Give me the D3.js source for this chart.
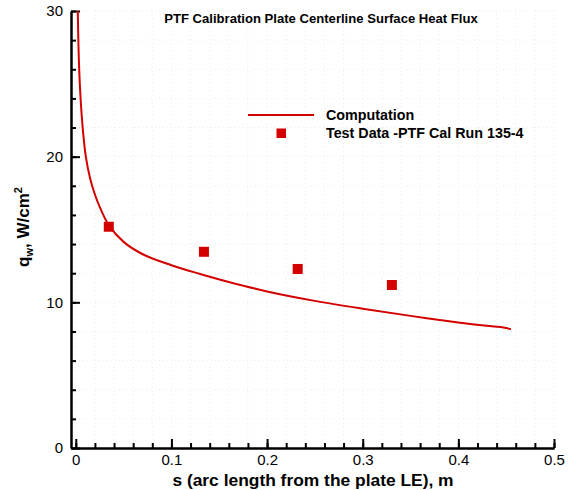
<!DOCTYPE html>
<html><head><meta charset="utf-8">
<script src="https://cdn.jsdelivr.net/npm/d3@7"></script>
<style>
body{margin:0;background:#fff;}
svg{display:block;font-family:"Liberation Sans",Arial,Helvetica,sans-serif;}
</style></head>
<body>
<svg id="c" width="574" height="490"></svg>
<script>
// Computation curve (s in m, q in W/cm^2)
const compS = [0.0021,0.0033,0.0052,0.0076,0.0105,0.015,0.02,0.025,0.0345,0.05,0.07,0.1,0.13,0.16,0.2,0.25,0.3,0.35,0.4,0.435,0.447,0.455];
const compQ = [30.0,26.5,23.8,21.7,20.0,18.5,17.4,16.55,15.3,14.15,13.3,12.55,11.95,11.4,10.75,10.1,9.56,9.07,8.62,8.35,8.27,8.15];
// Test data
const testS = [0.0345,0.134,0.232,0.3305];
const testQ = [15.19,13.47,12.29,11.19];
const xTicks = [0,0.1,0.2,0.3,0.4,0.5];
const yTicks = [0,10,20,30];
const xMinor = d3.range(0,0.5001,0.02);
const yMinor = d3.range(0,30.001,2);
const legendLabels = ["Computation","Test Data -PTF Cal Run 135-4"];
const titleText = "PTF Calibration Plate Centerline Surface Heat Flux";

const red = "#d40000";
const svg = d3.select("#c");
const x = d3.scaleLinear().domain([-0.005,0.5]).range([71,554]);
const y = d3.scaleLinear().domain([0,30]).range([448,11]);

// faint grid
const g = svg.append("g");
g.selectAll("line.gx").data(xMinor).join("line")
  .attr("x1",d=>x(d)).attr("x2",d=>x(d)).attr("y1",y(0)).attr("y2",y(30))
  .attr("stroke","#ececec").attr("stroke-width",1).attr("stroke-dasharray","1,3");
g.selectAll("line.gy").data(yMinor).join("line")
  .attr("y1",d=>y(d)).attr("y2",d=>y(d)).attr("x1",x(-0.005)).attr("x2",x(0.5))
  .attr("stroke","#ececec").attr("stroke-width",1).attr("stroke-dasharray","1,3");

// axes
const xAxis = svg.append("g").attr("transform",`translate(0,${y(0)})`)
  .call(d3.axisBottom(x).tickValues(xTicks).tickSize(-9).tickSizeOuter(0).tickPadding(6).tickFormat(d3.format("")));
const xAxisMinor = svg.append("g").attr("transform",`translate(0,${y(0)})`)
  .call(d3.axisBottom(x).tickValues(xMinor).tickSize(-5).tickSizeOuter(0).tickFormat(""));
const yAxis = svg.append("g").attr("transform",`translate(${x(-0.005)},0)`)
  .call(d3.axisLeft(y).tickValues(yTicks).tickSize(-9).tickSizeOuter(0).tickPadding(8));
const yAxisMinor = svg.append("g").attr("transform",`translate(${x(-0.005)},0)`)
  .call(d3.axisLeft(y).tickValues(yMinor).tickSize(-5).tickSizeOuter(0).tickFormat(""));
[xAxis,xAxisMinor,yAxis,yAxisMinor].forEach(a=>{
  a.selectAll("path.domain").attr("stroke","#000").attr("stroke-width",2);
  a.selectAll(".tick line").attr("stroke","#000").attr("stroke-width",2);
  a.selectAll("text").attr("font-size",15).attr("fill","#000")
    .attr("font-family","'Liberation Sans',Arial,sans-serif");
});

// curve
const line = d3.line().x(i=>x(compS[i])).y(i=>y(compQ[i])).curve(d3.curveCatmullRom.alpha(0.5));
svg.append("path").attr("d",line(d3.range(compS.length)))
  .attr("fill","none").attr("stroke",red).attr("stroke-width",2);

// test points
const sq = 10;
svg.selectAll("rect.pt").data(d3.range(testS.length)).join("rect")
  .attr("x",i=>x(testS[i])-sq/2).attr("y",i=>y(testQ[i])-sq/2)
  .attr("width",sq).attr("height",sq).attr("fill",red);

// title
svg.append("text").attr("x",321).attr("y",23).attr("text-anchor","middle")
  .attr("font-size",13.1).attr("font-weight","bold").text(titleText);

// legend
svg.append("line").attr("x1",248).attr("x2",314).attr("y1",115).attr("y2",115)
  .attr("stroke",red).attr("stroke-width",2);
svg.append("rect").attr("x",276.5).attr("y",128.5).attr("width",9.5).attr("height",9.5).attr("fill",red);
svg.selectAll("text.leg").data(legendLabels).join("text")
  .attr("x",326).attr("y",(d,i)=>120+i*18).attr("font-size",14.3).attr("font-weight","bold").text(d=>d);

// axis titles
svg.append("text").attr("x",313).attr("y",486).attr("text-anchor","middle")
  .attr("font-size",17.4).attr("font-weight","bold").text("s (arc length from the plate LE), m");
const yt = svg.append("text").attr("transform","translate(29,227) rotate(-90)")
  .attr("text-anchor","middle").attr("font-size",17).attr("font-weight","bold");
yt.append("tspan").text("q");
yt.append("tspan").attr("font-size",11).attr("dy",4).text("w");
yt.append("tspan").attr("dy",-4).text(", W/cm");
yt.append("tspan").attr("font-size",11).attr("dy",-7).text("2");
</script>
</body></html>
